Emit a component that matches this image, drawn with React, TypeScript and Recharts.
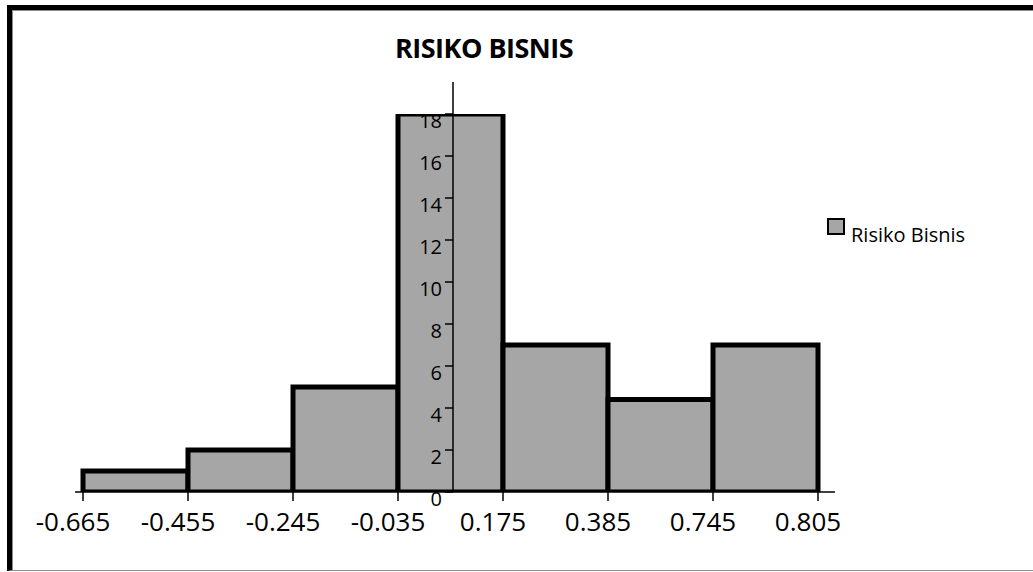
import { ComposedChart, Bar, XAxis, YAxis, Legend } from 'recharts';

const binIds = ['b1', 'b2', 'b3', 'b4', 'b5', 'b6', 'b7'];
const frequencies = [1, 2, 5, 18, 7, 4.4, 7];
const edgeLabels = ['-0.665', '-0.455', '-0.245', '-0.035', '0.175', '0.385', '0.745', '0.805'];
const edgeTicks = [0, 1, 2, 3, 4, 5, 6, 7];
const yTicks = [0, 2, 4, 6, 8, 10, 12, 14, 16, 18];
const seriesName = 'Risiko Bisnis';
const chartTitle = 'RISIKO BISNIS';

const data = binIds.map((bin, i) => ({ bin, idx: i, value: frequencies[i] }));

const FONT = '"Open Sans", sans-serif';
const BAR_FILL = '#A6A6A6';

const LegendBox = (props: any) => (
    <div style={{ fontFamily: FONT }}>
        {(props.payload || []).map((entry: any) => (
            <div key={entry.value} style={{ display: 'flex', alignItems: 'flex-start' }}>
                <span
                    style={{
                        width: 18,
                        height: 17,
                        boxSizing: 'border-box',
                        background: BAR_FILL,
                        border: '2.5px solid #000',
                    }}
                />
                <span style={{ marginLeft: 6, marginTop: 7, fontSize: 20, lineHeight: '20px', color: '#000' }}>
                    {entry.value}
                </span>
            </div>
        ))}
    </div>
);

export default function App() {
    return (
        <div
            style={{
                position: 'fixed',
                left: 0,
                top: 0,
                width: 1033,
                height: 572,
                overflow: 'hidden',
                background: '#fff',
            }}
        >
            <div
                style={{
                    position: 'absolute',
                    left: 7,
                    top: 5,
                    width: 1040,
                    height: 566,
                    boxSizing: 'border-box',
                    borderTop: '5px solid #000',
                    borderLeft: '5px solid #000',
                    borderBottom: '1px solid #8c8c8c',
                    boxShadow: 'inset 1px 1px 0 #8c8c8c',
                }}
            />
            <div
                style={{
                    position: 'absolute',
                    left: 0,
                    top: 35,
                    width: 968,
                    textAlign: 'center',
                    fontFamily: FONT,
                    fontWeight: 700,
                    fontSize: 27,
                    lineHeight: '26px',
                    letterSpacing: -0.5,
                    color: '#000',
                }}
            >
                {chartTitle}
            </div>

            <div style={{ position: 'absolute', left: 0, top: 0 }}>
                <ComposedChart
                    width={1033}
                    height={572}
                    data={data}
                    margin={{ top: 82, left: 75, right: 198, bottom: 40 }}
                    barCategoryGap={0}
                    barGap={0}
                    style={{ fontFamily: FONT }}
                >
                    <XAxis
                        xAxisId="bins"
                        orientation="top"
                        dataKey="bin"
                        hide
                        height={0}
                        padding={{ left: 8, right: 17 }}
                    />
                    <XAxis
                        xAxisId="edges"
                        dataKey="idx"
                        type="number"
                        domain={[0, 7]}
                        ticks={edgeTicks}
                        interval={0}
                        tickFormatter={(v: number) => edgeLabels[v]}
                        padding={{ left: 8, right: 17 }}
                        height={40}
                        stroke="#000"
                        strokeWidth={1.5}
                        tickSize={9}
                        tickMargin={12}
                        tick={{ fill: '#000', fontSize: 26, dx: -10 }}
                    />
                    <YAxis hide domain={[0, 18]} padding={{ top: 32 }} allowDataOverflow />
                    <Bar
                        xAxisId="bins"
                        dataKey="value"
                        name={seriesName}
                        fill={BAR_FILL}
                        stroke="#000"
                        strokeWidth={5}
                        isAnimationActive={false}
                    />
                    <Legend
                        layout="vertical"
                        align="center"
                        verticalAlign="middle"
                        content={LegendBox}
                        wrapperStyle={{ left: 827, top: 218, width: 200 }}
                    />
                </ComposedChart>
            </div>

            <div style={{ position: 'absolute', left: 0, top: 0, pointerEvents: 'none' }}>
                <ComposedChart
                    width={1033}
                    height={572}
                    data={data}
                    margin={{ top: 82, left: 393, right: 100, bottom: 80 }}
                    style={{ fontFamily: FONT }}
                >
                    <XAxis dataKey="bin" hide />
                    <YAxis
                        domain={[0, 18]}
                        ticks={yTicks}
                        interval={0}
                        allowDataOverflow
                        padding={{ top: 32 }}
                        width={60}
                        stroke="#000"
                        strokeWidth={1.5}
                        tickSize={8}
                        tickMargin={3}
                        tick={{ fill: '#000', fontSize: 20, dy: 7 }}
                    />
                </ComposedChart>
            </div>
        </div>
    );
}
